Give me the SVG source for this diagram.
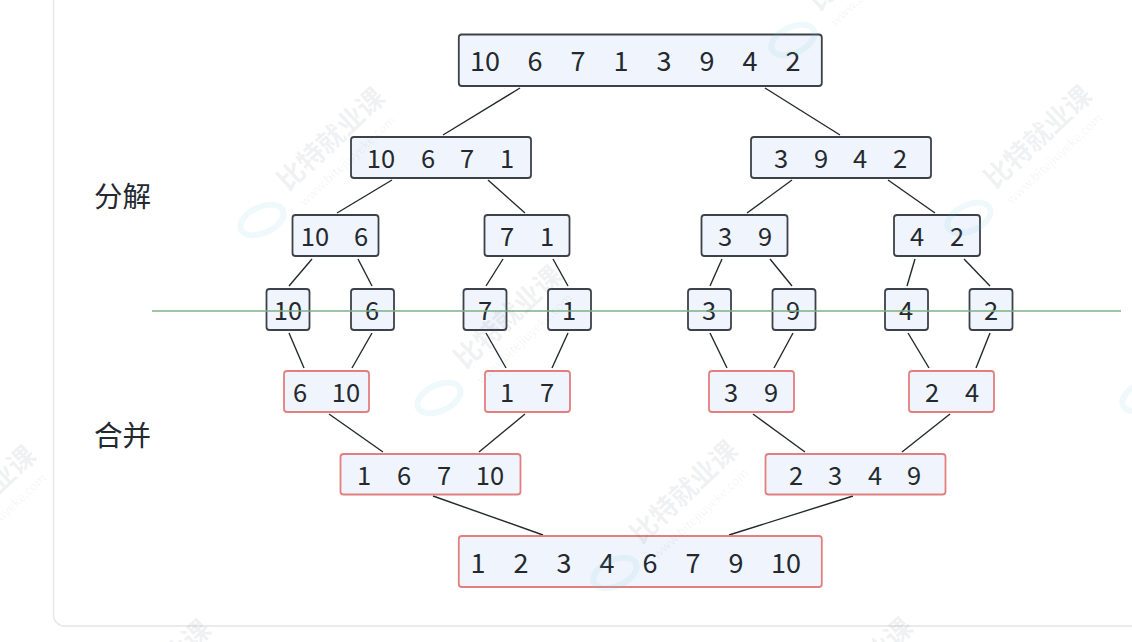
<svg xmlns="http://www.w3.org/2000/svg" width="1132" height="642" viewBox="0 0 1132 642">
<style>
text{font-family:"Noto Sans CJK SC","Noto Sans",sans-serif;fill:#24292f}
.n text{font-size:25.500px;text-anchor:middle}
.n.big text{font-size:27px}
.n rect{fill:#f0f4fc;rx:3px}
.d rect{stroke:#3d4248;stroke-width:1.800}
.m rect{stroke:#e37f7f;stroke-width:1.800}
.c line{stroke:#24292f;stroke-width:1.400}
.lab{font-size:28.500px}
.wm{fill:#5f6f78;fill-opacity:.1;font-size:27px;font-weight:700}
.wu{fill:#5f6f78;fill-opacity:.08;font-size:12.500px}
.we{fill:none;stroke:#5fc0dc;stroke-opacity:.1;stroke-width:6}
</style>
<defs>
<g id="wm"><ellipse class="we" cx="0" cy="0" rx="23" ry="13" transform="rotate(-25)"/><g transform="translate(26,-28) rotate(-43)"><text class="wm" x="0" y="0">比特就业课</text><text class="wu" x="2" y="22">www.bitejiuyeke.com</text></g></g>
</defs>
<rect id="card" x="53.500" y="-12" width="1200" height="638" rx="11" fill="#fff" stroke="#e4e5e7" stroke-width="1.300"/>
<g id="connectors" class="c">
<line x1="520" y1="88" x2="443" y2="135"/><line x1="765" y1="88" x2="840" y2="135"/>
<line x1="392" y1="180" x2="337" y2="213"/><line x1="488" y1="180" x2="525" y2="213"/>
<line x1="792" y1="180" x2="747" y2="213"/><line x1="888" y1="180" x2="935" y2="213"/>
<line x1="312" y1="259" x2="289" y2="286"/><line x1="358" y1="259" x2="372" y2="286"/>
<line x1="503" y1="259" x2="486" y2="286"/><line x1="553" y1="259" x2="568" y2="286"/>
<line x1="722" y1="259" x2="710" y2="286"/><line x1="770" y1="259" x2="792" y2="286"/>
<line x1="915" y1="259" x2="907" y2="286"/><line x1="964" y1="259" x2="990" y2="286"/>
<line x1="289" y1="333" x2="304" y2="368"/><line x1="372" y1="333" x2="352" y2="368"/>
<line x1="486" y1="333" x2="506" y2="368"/><line x1="568" y1="333" x2="552" y2="368"/>
<line x1="710" y1="333" x2="727" y2="368"/><line x1="793" y1="333" x2="774" y2="368"/>
<line x1="908" y1="333" x2="929" y2="368"/><line x1="990" y1="333" x2="976" y2="368"/>
<line x1="329" y1="414" x2="383" y2="452"/><line x1="525" y1="414" x2="479" y2="452"/>
<line x1="753" y1="414" x2="805" y2="452"/><line x1="950" y1="414" x2="902" y2="452"/>
<line x1="433" y1="496" x2="543" y2="535"/><line x1="853" y1="496" x2="729" y2="535"/>
</g>
<g id="n1" class="n d big"><rect x="458.800" y="34.500" width="363" height="51.500"/><text x="485" y="71">10</text><text x="535" y="71">6</text><text x="578" y="71">7</text><text x="621" y="71">1</text><text x="664" y="71">3</text><text x="707" y="71">9</text><text x="750" y="71">4</text><text x="793" y="71">2</text></g>
<g id="n2" class="n d"><rect x="351" y="137" width="180" height="41"/><text x="381" y="168">10</text><text x="428" y="168">6</text><text x="467" y="168">7</text><text x="507" y="168">1</text></g>
<g id="n3" class="n d"><rect x="751" y="137" width="180" height="41"/><text x="781" y="168">3</text><text x="821" y="168">9</text><text x="860" y="168">4</text><text x="900" y="168">2</text></g>
<g id="n4" class="n d"><rect x="292.500" y="215" width="86" height="41"/><text x="315" y="246">10</text><text x="361" y="246">6</text></g>
<g id="n5" class="n d"><rect x="484.500" y="215" width="85" height="41"/><text x="507" y="246">7</text><text x="547" y="246">1</text></g>
<g id="n6" class="n d"><rect x="701.500" y="215" width="86" height="41"/><text x="725" y="246">3</text><text x="765" y="246">9</text></g>
<g id="n7" class="n d"><rect x="894" y="215" width="86" height="41"/><text x="917" y="246">4</text><text x="957" y="246">2</text></g>
<g id="n8" class="n d"><rect x="266.500" y="289" width="43" height="41"/><text x="288" y="320">10</text></g>
<g id="n9" class="n d"><rect x="351" y="289" width="43" height="41"/><text x="372" y="320">6</text></g>
<g id="n10" class="n d"><rect x="463.500" y="289" width="43" height="41"/><text x="485" y="320">7</text></g>
<g id="n11" class="n d"><rect x="548" y="289" width="43" height="41"/><text x="569" y="320">1</text></g>
<g id="n12" class="n d"><rect x="688" y="289" width="43" height="41"/><text x="709" y="320">3</text></g>
<g id="n13" class="n d"><rect x="772.500" y="289" width="43" height="41"/><text x="793" y="320">9</text></g>
<g id="n14" class="n d"><rect x="885" y="289" width="43" height="41"/><text x="906" y="320">4</text></g>
<g id="n15" class="n d"><rect x="969.500" y="289" width="43" height="41"/><text x="991" y="320">2</text></g>
<line id="divider" x1="152" y1="311" x2="1121" y2="311" stroke="#7db287" stroke-width="1.500"/>
<g id="n16" class="n m"><rect x="284" y="371" width="85" height="41"/><text x="300" y="402">6</text><text x="346" y="402">10</text></g>
<g id="n17" class="n m"><rect x="485" y="371" width="85" height="41"/><text x="507" y="402">1</text><text x="547" y="402">7</text></g>
<g id="n18" class="n m"><rect x="709" y="371" width="85" height="41"/><text x="731" y="402">3</text><text x="771" y="402">9</text></g>
<g id="n19" class="n m"><rect x="909" y="371" width="85" height="41"/><text x="932" y="402">2</text><text x="972" y="402">4</text></g>
<g id="n20" class="n m"><rect x="340.500" y="454" width="180" height="40.500"/><text x="364" y="485">1</text><text x="404" y="485">6</text><text x="444" y="485">7</text><text x="490" y="485">10</text></g>
<g id="n21" class="n m"><rect x="765.500" y="454" width="180" height="40.500"/><text x="796" y="485">2</text><text x="835" y="485">3</text><text x="875" y="485">4</text><text x="914" y="485">9</text></g>
<g id="n22" class="n m big"><rect x="458.800" y="536" width="363" height="51"/><text x="478" y="573">1</text><text x="521" y="573">2</text><text x="564" y="573">3</text><text x="607" y="573">4</text><text x="650" y="573">6</text><text x="693" y="573">7</text><text x="736" y="573">9</text><text x="786" y="573">10</text></g>
<text class="lab" x="94" y="207">分解</text>
<text class="lab" x="94" y="446">合并</text>
<g id="watermarks">
<use href="#wm" x="262" y="220"/><use href="#wm" x="439" y="398"/><use href="#wm" x="793" y="40"/><use href="#wm" x="969" y="218"/>
<use href="#wm" x="-87" y="578"/><use href="#wm" x="615" y="573"/><use href="#wm" x="1144" y="396"/><use href="#wm" x="88" y="752"/><use href="#wm" x="790" y="750"/>
</g>
</svg>
